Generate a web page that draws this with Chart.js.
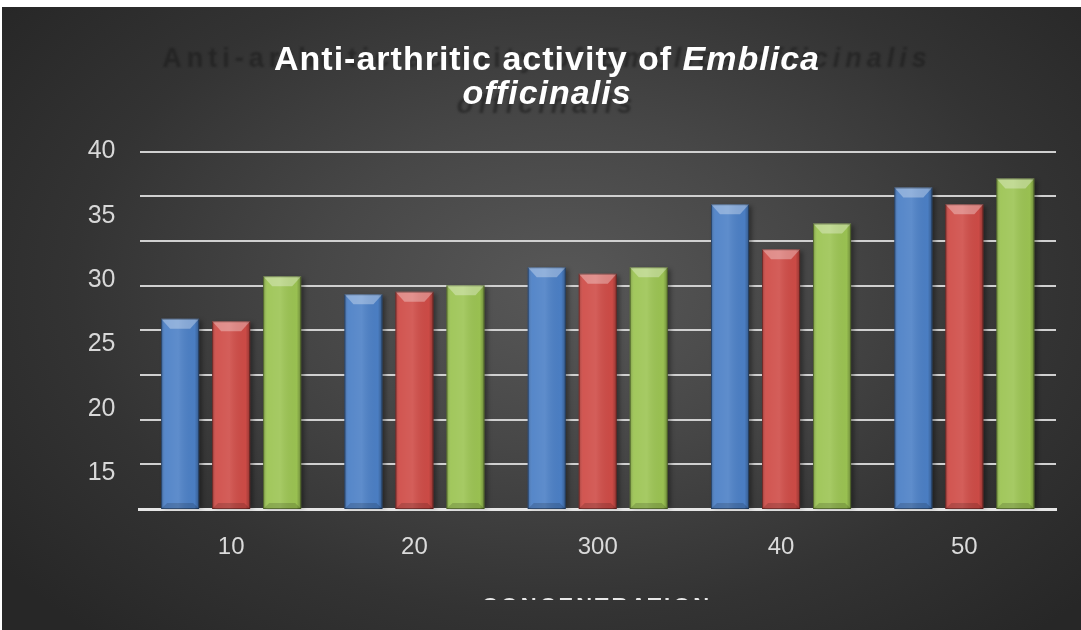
<!DOCTYPE html>
<html><head><meta charset="utf-8">
<script src="https://cdn.jsdelivr.net/npm/chart.js@4"></script>
<style>
html,body{margin:0;padding:0;background:#fff;width:1081px;height:630px;overflow:hidden;}
#bg{position:absolute;left:2px;top:7px;width:1079px;height:623px;
 background:radial-gradient(ellipse 65% 75% at 52% 45%, #585858 0%, #474747 35%, #333333 70%, #272727 100%);}
#wrap{position:absolute;left:0;top:0;width:1081px;height:630px;}
</style></head><body>
<div id="bg"></div>
<div id="wrap"><canvas id="c" width="1081" height="630"></canvas></div>
<script>
const categories = ['10', '20', '300', '40', '50'];
const seriesBlue  = [27.0, 28.9, 31.0, 35.9, 37.2];
const seriesRed   = [26.8, 29.1, 30.5, 32.4, 35.9];
const seriesGreen = [30.3, 29.6, 31.0, 34.4, 37.9];
const yTickLabels = [15, 20, 25, 30, 35, 40];
const titleNormal = 'Anti-arthritic activity of ';
const titleItalic = 'Emblica';
const titleLine2 = 'officinalis';
const xAxisTitle = 'CONCENTRATION';

const FONT = '"Liberation Sans", Arial, sans-serif';

function drawSegs(ctx, segs, cx, y) {
  let total = 0;
  segs.forEach(s => { ctx.font = s.font; s.w = ctx.measureText(s.text).width; total += s.w; });
  let x = cx - total / 2;
  ctx.textAlign = 'left';
  segs.forEach(s => { ctx.font = s.font; ctx.fillText(s.text, x, y); x += s.w; });
}

const titlePlugin = {
  id: 'titleText',
  afterDraw(chart) {
    const ctx = chart.ctx;
    ctx.save();
    ctx.textBaseline = 'alphabetic';
    // faint dark echo behind the title
    ctx.letterSpacing = '5px';
    ctx.fillStyle = 'rgba(25,25,25,0.55)';
    ctx.filter = 'blur(1px)';
    drawSegs(ctx, [
      {text: titleNormal, font: 'bold 27px ' + FONT},
      {text: titleItalic + ' ' + titleLine2, font: 'italic bold 27px ' + FONT}
    ], 547, 67);
    drawSegs(ctx, [{text: titleLine2, font: 'italic bold 27px ' + FONT}], 547, 113);
    ctx.filter = 'none';
    // main title
    ctx.letterSpacing = '1px';
    ctx.fillStyle = '#ffffff';
    drawSegs(ctx, [
      {text: titleNormal, font: 'bold 34px ' + FONT},
      {text: titleItalic, font: 'italic bold 34px ' + FONT}
    ], 547, 70);
    drawSegs(ctx, [{text: titleLine2, font: 'italic bold 34px ' + FONT}], 547, 104);
    // clipped x axis title
    ctx.beginPath();
    ctx.rect(0, 0, chart.width, 600);
    ctx.clip();
    ctx.letterSpacing = '3px';
    ctx.fillStyle = '#e8e8e8';
    drawSegs(ctx, [{text: xAxisTitle, font: 'bold 22px ' + FONT}], 597, 613);
    ctx.restore();
  }
};

function barGeom(chart, bar) {
  const {x, y, base, width} = bar.getProps(['x', 'y', 'base', 'width'], true);
  const b = Math.min(base, chart.chartArea.bottom);
  return {l: x - width / 2, r: x + width / 2, y, b, width, h: b - y};
}

const barStylePlugin = {
  id: 'barStyle',
  beforeDatasetsDraw(chart) {
    const ctx = chart.ctx;
    ctx.save();
    ctx.fillStyle = 'rgba(0,0,0,0.35)';
    ctx.filter = 'blur(2px)';
    chart.data.datasets.forEach((ds, i) => {
      chart.getDatasetMeta(i).data.forEach(bar => {
        const g = barGeom(chart, bar);
        ctx.fillRect(g.l + 3, g.y + 2, g.width, g.h - 3);
      });
    });
    ctx.restore();
  },
  afterDatasetsDraw(chart) {
    const ctx = chart.ctx;
    ctx.save();
    chart.data.datasets.forEach((ds, i) => {
      chart.getDatasetMeta(i).data.forEach(bar => {
        const {l, r, y, b, width, h} = barGeom(chart, bar);
        const g = ctx.createLinearGradient(l, 0, r, 0);
        g.addColorStop(0, 'rgba(0,0,0,0.22)');
        g.addColorStop(0.12, 'rgba(255,255,255,0.06)');
        g.addColorStop(0.45, 'rgba(255,255,255,0.10)');
        g.addColorStop(0.88, 'rgba(0,0,0,0.02)');
        g.addColorStop(1, 'rgba(0,0,0,0.3)');
        ctx.fillStyle = g;
        ctx.fillRect(l, y, width, h);
        const d = Math.min(10, h / 2);
        ctx.beginPath();
        ctx.moveTo(l, y); ctx.lineTo(r, y); ctx.lineTo(r - 9, y + d); ctx.lineTo(l + 9, y + d); ctx.closePath();
        ctx.fillStyle = 'rgba(255,255,255,0.32)';
        ctx.fill();
        ctx.beginPath();
        ctx.moveTo(l, b); ctx.lineTo(r, b); ctx.lineTo(r - 6, b - 6); ctx.lineTo(l + 6, b - 6); ctx.closePath();
        ctx.fillStyle = 'rgba(0,0,0,0.15)';
        ctx.fill();
        ctx.strokeStyle = 'rgba(0,0,0,0.35)';
        ctx.lineWidth = 1;
        ctx.strokeRect(l + 0.5, y + 0.5, width - 1, h - 1);
      });
    });
    ctx.restore();
  }
};

new Chart(document.getElementById('c'), {
  type: 'bar',
  data: {
    labels: categories,
    datasets: [
      {label: 'Series 1', data: seriesBlue, backgroundColor: '#4c80c6'},
      {label: 'Series 2', data: seriesRed, backgroundColor: '#cf4c47'},
      {label: 'Series 3', data: seriesGreen, backgroundColor: '#9cc453'}
    ]
  },
  options: {
    responsive: false,
    animation: false,
    devicePixelRatio: 1,
    datasets: {bar: {barPercentage: 0.745, categoryPercentage: 0.835, borderWidth: 0}},
    layout: {padding: {top: 151.5, right: 25, left: 0, bottom: 0}},
    plugins: {legend: {display: false}, title: {display: false}, tooltip: {enabled: false}},
    scales: {
      x: {
        grid: {display: false, drawTicks: false},
        border: {display: true, color: '#e6e6e6', width: 3},
        ticks: {color: '#dadada', font: {size: 24, family: FONT}, padding: 24},
        afterFit(s) { s.height = 121; }
      },
      y: {
        position: 'left', min: 12.2, max: 40,
        grid: {display: false, drawTicks: false},
        border: {display: false},
        ticks: {color: '#d8d8d8', font: {size: 25, family: FONT}, padding: 24},
        afterBuildTicks(s) { s.ticks = yTickLabels.map(v => ({value: v})); },
        afterFit(s) { s.width = 139.5; }
      },
      yg: {
        position: 'left', min: 0, max: 8,
        ticks: {display: false, stepSize: 1},
        grid: {color: '#d0d0d0', lineWidth: 2, drawTicks: false},
        border: {display: false},
        afterFit(s) { s.width = 0; }
      }
    }
  },
  plugins: [barStylePlugin, titlePlugin]
});
</script>
</body></html>
